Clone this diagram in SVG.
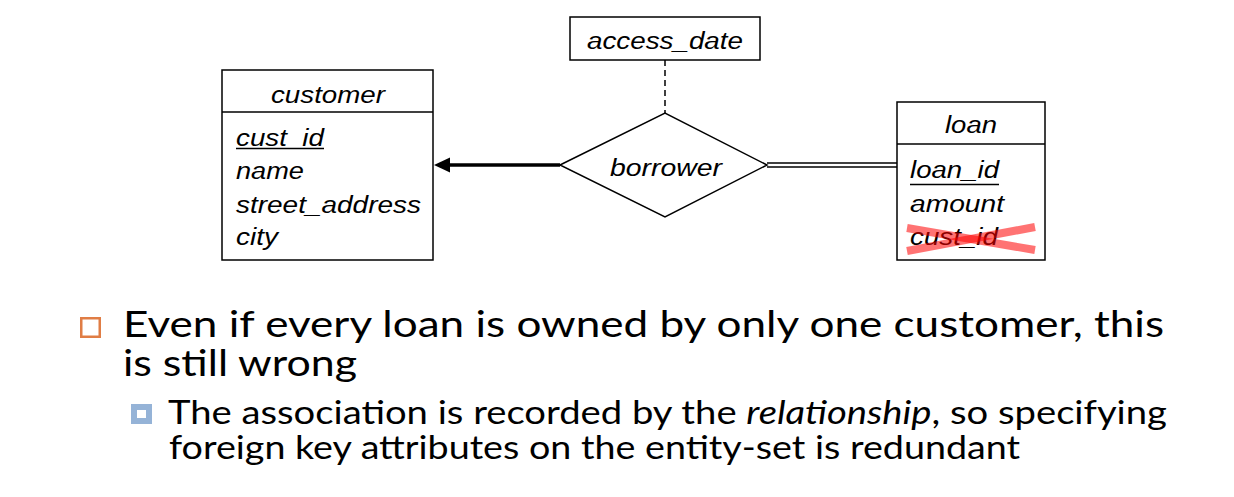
<svg xmlns="http://www.w3.org/2000/svg" width="1234" height="497" viewBox="0 0 1234 497">
<style>
.box{fill:#fff;stroke:#000;stroke-width:1.5}
.er{font-family:"Liberation Sans",Arial,sans-serif;font-style:italic;font-size:23.5px;fill:#000}
.mid{text-anchor:middle}
.ul{stroke:#000;stroke-width:1.5}
.body{font-family:Lato,"Noto Sans",sans-serif;fill:#000}
.l1{font-size:37px}
.l2{font-size:33px}
</style>
<defs>
<marker id="arr" markerUnits="userSpaceOnUse" markerWidth="17" markerHeight="16" refX="0" refY="8" orient="auto-start-reverse" viewBox="0 0 17 16">
<path d="M0,8 L17,0.5 L17,15.5 Z" fill="#000"/>
</marker>
</defs>
<rect width="1234" height="497" fill="#fff"/>
<g id="connectors">
<line x1="665" y1="60" x2="665" y2="113" stroke="#000" stroke-width="1.5" stroke-dasharray="6,4"/>
<line x1="560" y1="165" x2="450" y2="165" stroke="#000" stroke-width="3.3"/>
<path d="M434,165 L450,157.5 L450,172.5 Z" fill="#000"/>
<line x1="767" y1="163" x2="897" y2="163" stroke="#000" stroke-width="1.3"/>
<line x1="767" y1="167" x2="897" y2="167" stroke="#000" stroke-width="1.3"/>
</g>
<g id="access_date">
<rect class="box" x="570" y="17" width="190" height="43"/>
<text class="er mid" x="665" y="49" textLength="156" lengthAdjust="spacingAndGlyphs">access_date</text>
</g>
<g id="borrower">
<polygon class="box" points="560,165 665,113 767,165 665,217"/>
<text class="er mid" x="666" y="176" textLength="112" lengthAdjust="spacingAndGlyphs">borrower</text>
</g>
<g id="customer">
<rect class="box" x="222" y="70" width="211" height="190"/>
<line class="ul" x1="222" y1="112" x2="433" y2="112"/>
<text class="er mid" x="328" y="103" textLength="114" lengthAdjust="spacingAndGlyphs">customer</text>
<text class="er" x="236" y="146" textLength="88" lengthAdjust="spacingAndGlyphs">cust_id</text>
<line class="ul" x1="236" y1="148.5" x2="324" y2="148.5"/>
<text class="er" x="236" y="179" textLength="68" lengthAdjust="spacingAndGlyphs">name</text>
<text class="er" x="236" y="213" textLength="185" lengthAdjust="spacingAndGlyphs">street_address</text>
<text class="er" x="236" y="245" textLength="42" lengthAdjust="spacingAndGlyphs">city</text>
</g>
<g id="loan">
<rect class="box" x="897" y="102" width="148" height="158"/>
<line class="ul" x1="897" y1="144" x2="1045" y2="144"/>
<text class="er mid" x="971" y="133" textLength="52" lengthAdjust="spacingAndGlyphs">loan</text>
<text class="er" x="910" y="178" textLength="89" lengthAdjust="spacingAndGlyphs">loan_id</text>
<line class="ul" x1="910" y1="184.5" x2="999" y2="184.5"/>
<text class="er" x="910" y="212" textLength="94" lengthAdjust="spacingAndGlyphs">amount</text>
<text class="er" x="910" y="245" textLength="88" lengthAdjust="spacingAndGlyphs">cust_id</text>
<g stroke="#ff0000" stroke-opacity="0.55" stroke-width="8">
<line x1="907" y1="228" x2="1035" y2="250"/>
<line x1="907" y1="251" x2="1035" y2="227"/>
</g>
</g>
<g id="text">
<rect x="81.25" y="318.25" width="18.5" height="18.5" fill="none" stroke="#e07d45" stroke-width="2.5"/>
<text class="body l1" x="123" y="337" textLength="1041" lengthAdjust="spacingAndGlyphs">Even if every loan is owned by only one customer, this</text>
<text class="body l1" x="123" y="376" textLength="234" lengthAdjust="spacingAndGlyphs">is still wrong</text>
<rect x="134" y="407" width="15" height="14" fill="#fff" stroke="#95b3d7" stroke-width="6"/>
<text class="body l2" x="168" y="424" textLength="999" lengthAdjust="spacingAndGlyphs">The association is recorded by the <tspan font-style="italic">relationship</tspan>, so specifying</text>
<text class="body l2" x="169" y="459" textLength="851" lengthAdjust="spacingAndGlyphs">foreign key attributes on the entity-set is redundant</text>
</g>
</svg>
